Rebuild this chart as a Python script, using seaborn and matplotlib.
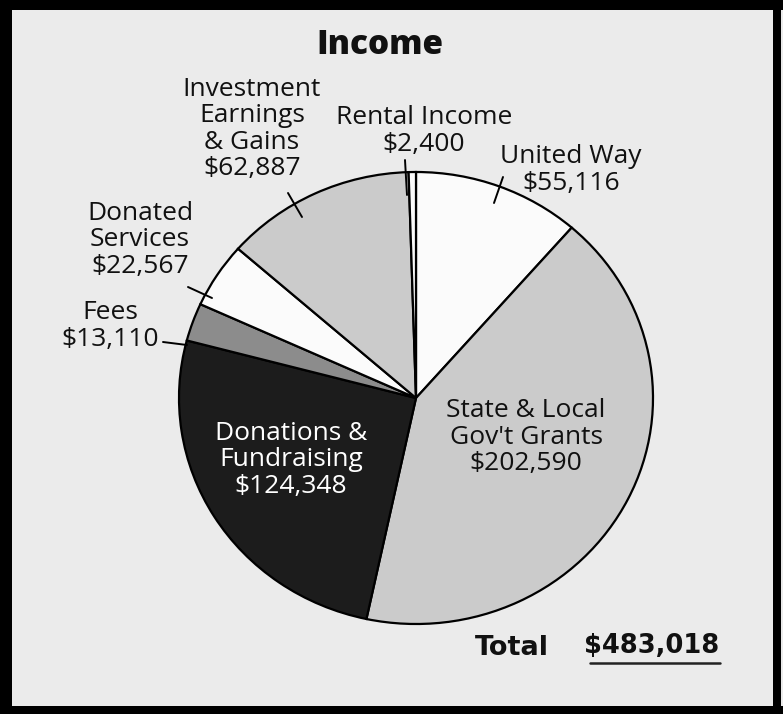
import matplotlib
matplotlib.use("Agg")
import matplotlib.pyplot as plt
import seaborn as sns
from matplotlib.patches import Rectangle
from matplotlib.lines import Line2D

sns.set_style("white")
plt.rcParams["font.family"] = ["Open Sans", "DejaVu Sans"]

# data, clockwise from 12 o'clock
sources = ["United Way", "State & Local\nGov't Grants", "Donations &\nFundraising",
           "Fees", "Donated\nServices", "Investment\nEarnings\n& Gains", "Rental Income"]
amounts = [55116, 202590, 124348, 13110, 22567, 62887, 2400]
total = sum(amounts)

colors = ["#fbfbfb", "#cbcbcb", "#1c1c1c", "#8c8c8c", "#fbfbfb", "#cbcbcb", "#fbfbfb"]

W, H = 783, 714
fig = plt.figure(figsize=(W / 100, H / 100), dpi=100)
fig.patch.set_facecolor("#ebebeb")

# pie is slightly wider than tall in the scan
cx, cy, rx, ry = 416, 398, 237, 226
ax = fig.add_axes([(cx - rx) / W, (H - cy - ry) / H, 2 * rx / W, 2 * ry / H])
ax.pie(amounts, colors=colors, startangle=90, counterclock=False, radius=1,
       wedgeprops=dict(edgecolor="black", linewidth=1.6))
ax.set_aspect("auto")
ax.set_xlim(-1, 1)
ax.set_ylim(-1, 1)
ax.axis("off")

def px(x, y):
    return x / W, 1 - y / H

fs = 19
ls = 1.08
# outside labels: (text, x, y of block centre)
outside = [
    ("Investment\nEarnings\n& Gains\n$62,887", 252, 129),
    ("Rental Income\n$2,400", 424, 131),
    ("United Way\n$55,116", 571, 170),
    ("Donated\nServices\n$22,567", 140, 240),
    ("Fees\n$13,110", 110, 326),
]
for txt, x, y in outside:
    fig.text(*px(x, y), txt, ha="center", va="center", fontsize=fs,
             linespacing=ls, color="#111111")

fig.text(*px(291, 460), "Donations &\nFundraising\n$124,348", ha="center", va="center",
         fontsize=fs, linespacing=ls, color="white")
fig.text(*px(526, 437), "State & Local\nGov't Grants\n$202,590", ha="center", va="center",
         fontsize=fs, linespacing=ls, color="#111111")

# leader lines
leaders = [((288, 193), (302, 217)), ((405, 160), (407, 195)), ((503, 177), (494, 203)),
           ((188, 287), (212, 298)), ((163, 342), (187, 345))]
for (x0, y0), (x1, y1) in leaders:
    a, b = px(x0, y0)
    c, d = px(x1, y1)
    fig.add_artist(Line2D([a, c], [b, d], color="black", lw=1.4))

fig.text(*px(380, 45), "Income", ha="center", va="center", fontsize=24,
         fontweight="heavy", color="#111111")
fig.text(*px(512, 648), "Total", ha="center", va="center", fontsize=19.5,
         fontweight="bold", family=["DejaVu Sans"], color="#111111")
fig.text(*px(652, 646), f"${total:,}", ha="center", va="center", fontsize=18.5,
         fontweight="bold", family=["DejaVu Sans"], color="#111111")
a, b = px(590, 663)
c, d = px(720, 663)
fig.add_artist(Line2D([a, c], [b, d], color="#222222", lw=1.8))

# scanned black frame
for x0, y0, w, h in [(0, 0, 12, H), (0, 0, W, 10), (773, 0, 8, H), (0, 706, W, 8)]:
    fig.add_artist(Rectangle((x0 / W, 1 - (y0 + h) / H), w / W, h / H,
                             transform=fig.transFigure, color="black", lw=0))

fig.savefig("out.png", dpi=100, facecolor=fig.get_facecolor())
